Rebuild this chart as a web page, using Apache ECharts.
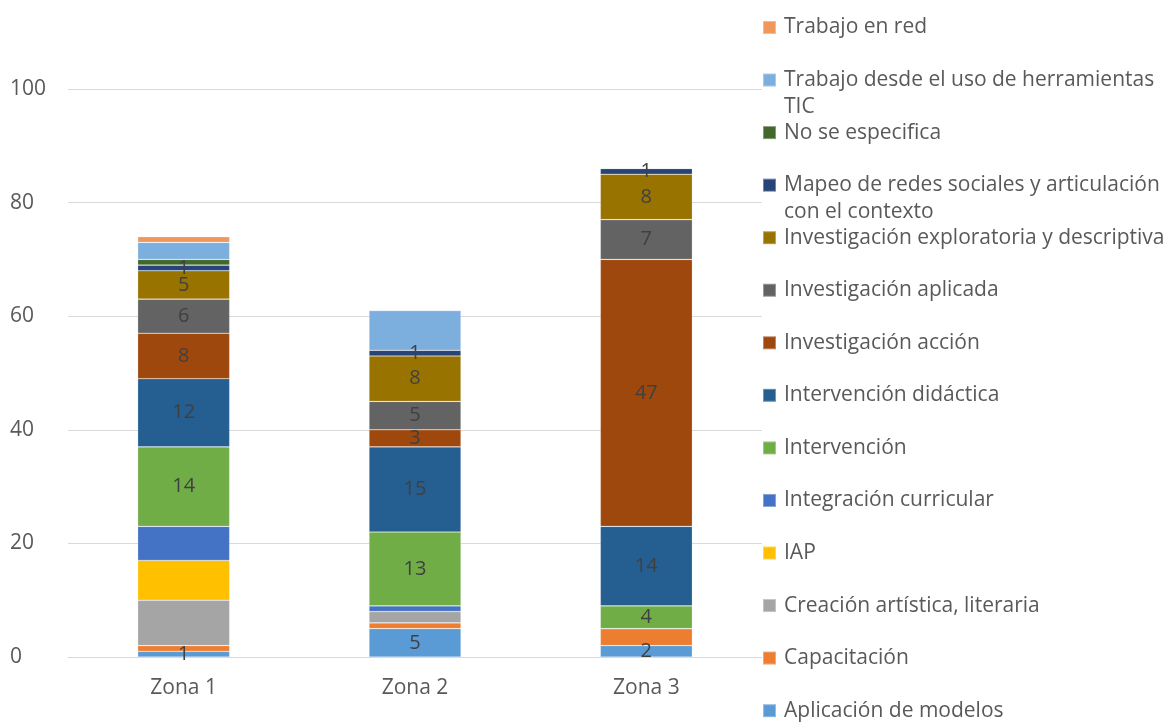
<!DOCTYPE html>
<html>
	<head>
		<meta charset="utf-8" />
		<title>zonas</title>
		<script src="https://cdn.jsdelivr.net/npm/echarts@6/dist/echarts.min.js"></script>
		<style>
			body { margin: 0; background: #fff; }
			#chart { width: 1167px; height: 723px; }
		</style>
	</head>
	<body>
		<div id="chart"></div>
	</body>
	<script type="text/javascript">

	var zonas = ['Zona 1', 'Zona 2', 'Zona 3'];

	var aplicacion = [1, 5, 2];
	var capacitacion = [1, 1, 3];
	var creacion = [8, 2, 0];
	var iap = [7, 0, 0];
	var integracion = [6, 1, 0];
	var intervencion = [14, 13, 4];
	var didactica = [12, 15, 14];
	var invAccion = [8, 3, 47];
	var invAplicada = [6, 5, 7];
	var invExploratoria = [5, 8, 8];
	var mapeo = [1, 1, 1];
	var noEspecifica = [1, 0, 0];
	var trabajoTic = [3, 7, 0];
	var trabajoRed = [1, 0, 0];

	// name, data, color, show label
	var seriesInfo = [
		['Aplicación de modelos', aplicacion, '#5B9BD5', true],
		['Capacitación', capacitacion, '#ED7D31', false],
		['Creación artística, literaria', creacion, '#A5A5A5', false],
		['IAP', iap, '#FFC000', false],
		['Integración curricular', integracion, '#4472C4', false],
		['Intervención', intervencion, '#70AD47', true],
		['Intervención didáctica', didactica, '#255E91', true],
		['Investigación acción', invAccion, '#9E480E', true],
		['Investigación aplicada', invAplicada, '#636363', true],
		['Investigación exploratoria y descriptiva', invExploratoria, '#997300', true],
		['Mapeo de redes sociales y articulación\ncon el contexto', mapeo, '#264478', true],
		['No se especifica', noEspecifica, '#43682B', false],
		['Trabajo desde el uso de herramientas\nTIC', trabajoTic, '#7CAFDD', false],
		['Trabajo en red', trabajoRed, '#F1975A', false]
	];

	var LH = 27;
	var series = [];
	var legends = [];
	for (var i = 0; i < seriesInfo.length; i++) {
		var s = seriesInfo[i];
		series.push({
			name: s[0],
			type: 'bar',
			stack: 'total',
			barWidth: 92,
			data: s[1],
			itemStyle: { color: s[2], borderColor: 'rgba(255,255,255,0.35)', borderWidth: 0.6 },
			label: {
				show: s[3],
				position: 'inside',
				color: '#404040',
				fontSize: 20,
				fontFamily: 'Open Sans',
				formatter: function (p) { return p.value ? p.value : ''; }
			}
		});
		// legend goes top-down, last series first
		var row = seriesInfo.length - 1 - i;
		var twoLines = s[0].indexOf('\n') >= 0;
		var iconY = 27.5 + row * 52.55;
		var ts = {
			color: '#595959',
			fontSize: 21,
			lineHeight: LH,
			fontFamily: 'Open Sans',
			padding: [0, 0, 0, 3]
		};
		if (twoLines) {
			// rich mode so the top padding pushes the first line onto the icon
			ts.rich = { a: { fontSize: 21, lineHeight: LH } };
			ts.padding = [LH, 0, 0, 3];
		}
		legends.push({
			orient: 'vertical',
			left: 757,
			top: twoLines ? iconY - 45.5 : iconY - 18.5,
			itemWidth: 13,
			itemHeight: 13,
			icon: 'rect',
			data: [s[0]],
			textStyle: ts
		});
	}

	var myChart = echarts.init(document.getElementById('chart'));
	var option = {
		animation: false,
		backgroundColor: '#fff',
		legend: legends,
		grid: {
			left: 68,
			right: 405,
			top: 89,
			bottom: 66
		},
		xAxis: {
			type: 'category',
			data: zonas,
			axisLine: { lineStyle: { color: '#d9d9d9', width: 1 } },
			axisTick: { show: false },
			axisLabel: { color: '#595959', fontSize: 21, fontFamily: 'Open Sans', margin: 21 }
		},
		yAxis: {
			type: 'value',
			min: 0,
			max: 100,
			interval: 20,
			axisLine: { show: false },
			axisTick: { show: false },
			splitLine: { lineStyle: { color: '#d9d9d9', width: 1 } },
			axisLabel: { color: '#595959', fontSize: 21, fontFamily: 'Open Sans', align: 'left', margin: 58 }
		},
		series: series
	};
	myChart.setOption(option);

	</script>
</html>
